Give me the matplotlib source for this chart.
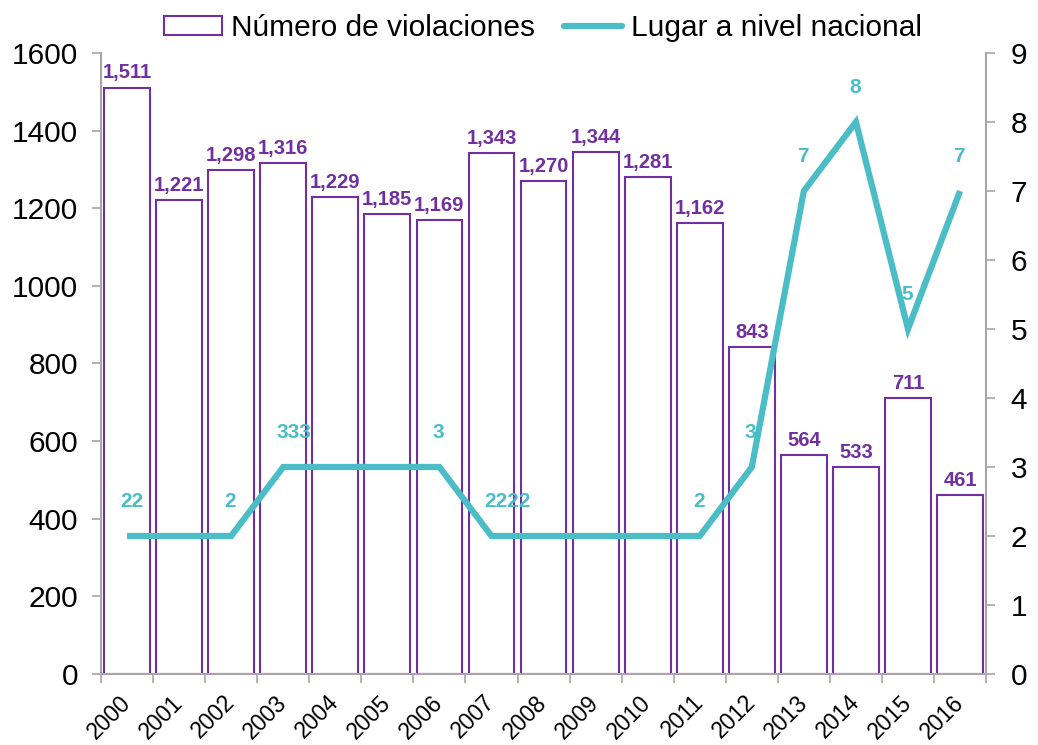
import matplotlib
matplotlib.use("Agg")

import numpy as np
import matplotlib.pyplot as plt
from matplotlib.patches import Patch
from matplotlib.lines import Line2D

plt.rcParams["font.family"] = ["Liberation Sans", "DejaVu Sans"]

years = ["2000", "2001", "2002", "2003", "2004", "2005", "2006", "2007", "2008",
         "2009", "2010", "2011", "2012", "2013", "2014", "2015", "2016"]
violaciones = [1511, 1221, 1298, 1316, 1229, 1185, 1169, 1343, 1270,
               1344, 1281, 1162, 843, 564, 533, 711, 461]
lugar = [2, 2, 2, 3, 3, 3, 3, 2, 2, 2, 2, 2, 3, 7, 8, 5, 7]
# labels as they appear in the source (overlapping duplicates)
lugar_labels = ["22", "", "2", "333", "", "", "3", "2222", "", "",
                "", "2", "3", "7", "8", "5", "7"]

purple = "#7030A0"
teal = "#4BBDC7"
grey = "#A6A6A6"

fig = plt.figure(figsize=(10.38, 7.45), dpi=100)
ax = fig.add_axes([0.0973, 0.0953, 0.8527, 0.8336])
ax2 = ax.twinx()

x = np.arange(len(years))
ax.bar(x, violaciones, width=0.88, facecolor="white", edgecolor=purple, linewidth=1.5, zorder=2)
for xi, v in zip(x, violaciones):
    ax.annotate(f"{v:,}", (xi, v), xytext=(0, 6.5), textcoords="offset points",
                ha="center", va="baseline", color=purple, fontsize=14.5, fontweight="bold")

ax2.plot(x, lugar, color=teal, linewidth=4.5, solid_joinstyle="miter", solid_capstyle="butt")
for xi, v, lab in zip(x, lugar, lugar_labels):
    if lab:
        ax2.annotate(lab, (xi, v), xytext=(-5, 25), textcoords="offset points",
                     ha="left", va="center", color=teal, fontsize=15, fontweight="bold")

ax.set_xlim(-0.5, len(years) - 0.5)
ax.set_ylim(0, 1600)
ax.set_yticks(np.arange(0, 1601, 200))
ax2.set_ylim(0, 9)
ax2.set_yticks(np.arange(0, 10, 1))

ax.set_xticks(np.arange(-0.5, len(years), 1))
ax.set_xticklabels([])
ax.set_xticks(x, minor=True)
ax.set_xticklabels(years, minor=True, rotation=45, ha="right", va="center",
                   rotation_mode="anchor", fontsize=16.5)
ax.tick_params(axis="x", which="minor", length=0, pad=18)
ax.tick_params(axis="x", which="major", length=6.5, width=1.2, color=grey, direction="out")
ax.tick_params(axis="y", length=6.5, width=1.2, color=grey, labelsize=21.5, pad=10)
ax2.tick_params(axis="y", length=6.5, width=1.2, color=grey, labelsize=21.5, pad=11)

for a in (ax, ax2):
    a.spines["top"].set_visible(False)
    for s in ("left", "right", "bottom"):
        a.spines[s].set_color(grey)
        a.spines[s].set_linewidth(1.5)
ax.spines["right"].set_visible(False)
ax2.spines["left"].set_visible(False)
ax2.spines["bottom"].set_visible(False)

handles = [Patch(facecolor="white", edgecolor=purple, linewidth=1.5),
           Line2D([0], [0], color=teal, linewidth=4.5, solid_capstyle="round")]
fig.legend(handles, ["Número de violaciones", "Lugar a nivel nacional"],
           loc="center", bbox_to_anchor=(0.523, 0.963), ncol=2, frameon=False,
           fontsize=21.5, handlelength=1.95, handleheight=0.6, handletextpad=0.3,
           columnspacing=0.95, borderaxespad=0)

fig.savefig("out.png", dpi=100)
